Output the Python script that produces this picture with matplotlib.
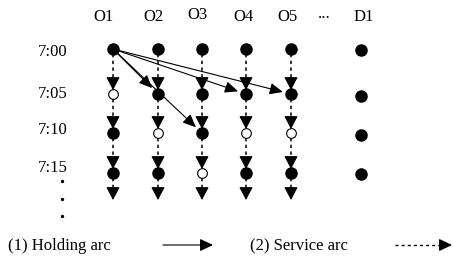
import matplotlib
matplotlib.use('Agg')
import matplotlib.pyplot as plt

plt.rcParams['font.family'] = ['Liberation Serif', 'DejaVu Serif']

stations = ['O1', 'O2', 'O3', 'O4', 'O5']
times = ['7:00', '7:05', '7:10', '7:15']
dest = 'D1'
# open (empty) nodes: (station index, time index)
empty = [(0, 1), (1, 2), (2, 3), (3, 2), (4, 2)]
# holding arcs from O1 7:00 -> (station index, time index)
holding = [(1, 1), (2, 2), (3, 1), (4, 1)]

col_x = [113, 158, 202, 246, 291]
row_y = [49, 94, 133, 173]
d1_x = 361
d1_y = [50, 96, 135, 174]
last_y = 200
# label placement (pixels)
head_x = [104, 153, 197, 243, 287]
head_y = [17, 17, 15, 17, 17]
time_y = [52, 94, 130, 168]

fig = plt.figure(figsize=(4.53, 2.63), dpi=100)
ax = fig.add_axes([0, 0, 1, 1])
ax.set_xlim(0, 453)
ax.set_ylim(263, 0)
ax.axis('off')

fs = 12
for i, s in enumerate(stations):
    ax.text(head_x[i], head_y[i], s, ha='center', va='center', fontsize=fs)
ax.text(324, 18, '...', ha='center', va='baseline', fontsize=fs)
ax.text(364, 17, dest, ha='center', va='center', fontsize=fs)
for j, t in enumerate(times):
    ax.text(53, time_y[j], t, ha='center', va='center', fontsize=fs)
for y in [181, 199, 216]:
    ax.plot(62, y, marker='o', ms=1.4, color='black')

# service arcs (dashed, vertical)
for i in range(len(stations)):
    ys = row_y + [last_y]
    for j in range(len(times)):
        y0 = ys[j] + 5
        y1 = ys[j + 1] - 4 if j + 1 < len(times) else ys[j + 1]
        ax.plot([col_x[i], col_x[i]], [y0, y1 - 8], ls=(0, (2.2, 2.2)), color='black', lw=1.1)
        ax.annotate('', xy=(col_x[i], y1), xytext=(col_x[i], y1 - 9),
                    arrowprops=dict(arrowstyle='-|>,head_length=0.8,head_width=0.42',
                                    color='black', lw=0.8, shrinkA=0, shrinkB=0))

# nodes
for i in range(len(stations)):
    for j in range(len(times)):
        if (i, j) in empty:
            ax.plot(col_x[i], row_y[j], marker='o', ms=7, mfc='white', mec='black', mew=0.8)
        else:
            ax.plot(col_x[i], row_y[j], marker='o', ms=8, color='black')
for y in d1_y:
    ax.plot(d1_x, y, marker='o', ms=8, color='black')

# holding arcs
for (i, j) in holding:
    ax.annotate('', xy=(col_x[i], row_y[j]), xytext=(col_x[0], row_y[0]),
                arrowprops=dict(arrowstyle='-|>,head_length=0.8,head_width=0.35',
                                color='black', lw=0.8, shrinkA=3, shrinkB=6))

# legend
ax.text(8, 246, '(1) Holding arc', ha='left', va='center', fontsize=fs)
ax.annotate('', xy=(213, 245), xytext=(163, 245),
            arrowprops=dict(arrowstyle='-|>,head_length=0.8,head_width=0.38',
                            color='black', lw=0.8, shrinkA=0, shrinkB=0))
ax.text(250, 246, '(2) Service arc', ha='left', va='center', fontsize=fs)
ax.plot([395, 442], [245, 245], ls=(0, (2.2, 2.2)), color='black', lw=1.0)
ax.annotate('', xy=(452, 245), xytext=(440, 245),
            arrowprops=dict(arrowstyle='-|>,head_length=0.8,head_width=0.38',
                            color='black', lw=0.8, shrinkA=0, shrinkB=0))

fig.savefig('out.png', dpi=100)
